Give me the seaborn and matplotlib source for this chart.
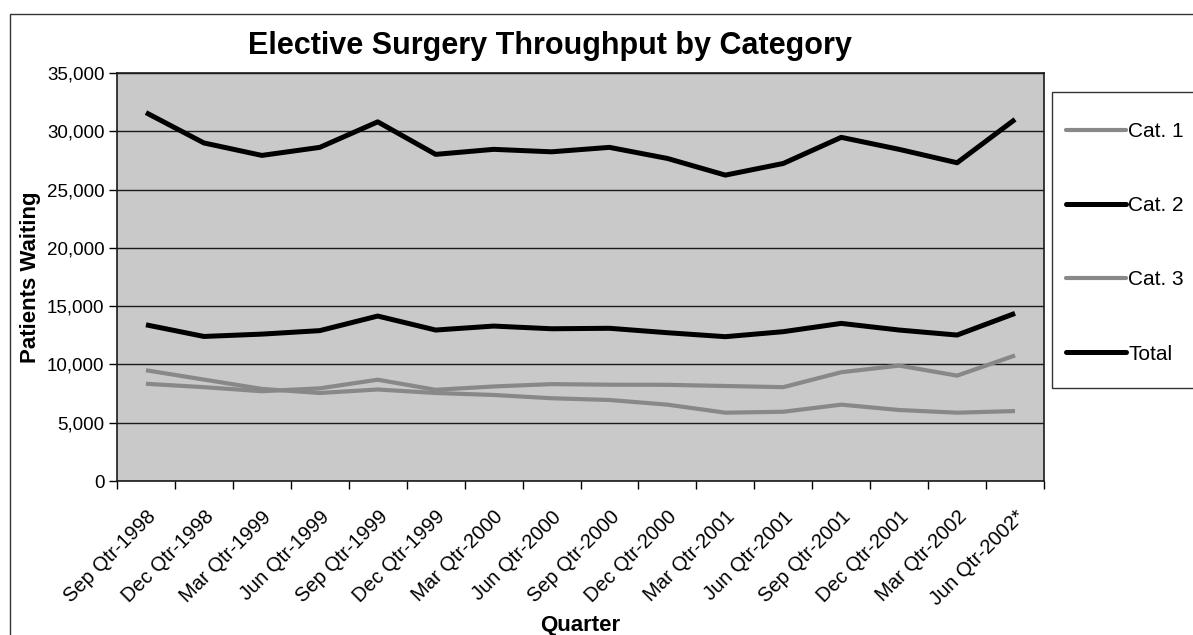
"""Elective surgery throughput by category - line chart recreation."""
import numpy as np
import pandas as pd
import matplotlib
matplotlib.use("Agg")
import matplotlib.pyplot as plt
import matplotlib.ticker as mticker
from matplotlib.patches import Rectangle
from matplotlib.lines import Line2D
import seaborn as sns

quarters = ["Sep Qtr-1998", "Dec Qtr-1998", "Mar Qtr-1999", "Jun Qtr-1999",
            "Sep Qtr-1999", "Dec Qtr-1999", "Mar Qtr-2000", "Jun Qtr-2000",
            "Sep Qtr-2000", "Dec Qtr-2000", "Mar Qtr-2001", "Jun Qtr-2001",
            "Sep Qtr-2001", "Dec Qtr-2001", "Mar Qtr-2002", "Jun Qtr-2002*"]
cat1 = [9500, 8700, 7900, 7550, 7850, 7550, 7380, 7100,
        6950, 6550, 5860, 5940, 6550, 6090, 5860, 6000]
cat2 = [13400, 12400, 12600, 12900, 14150, 12950, 13290, 13060,
        13100, 12720, 12380, 12810, 13520, 12950, 12520, 14380]
cat3 = [8340, 8050, 7700, 7950, 8690, 7820, 8110, 8310,
        8260, 8250, 8150, 8050, 9330, 9900, 9040, 10770]
total = [31600, 29000, 27930, 28620, 30810, 28020, 28450, 28240,
         28620, 27670, 26240, 27240, 29480, 28450, 27300, 31020]
series = ["Cat. 1", "Cat. 2", "Cat. 3", "Total"]

df = pd.DataFrame({"pos": np.arange(len(quarters)),
                   "Cat. 1": cat1, "Cat. 2": cat2, "Cat. 3": cat3, "Total": total})
long = df.melt(id_vars="pos", var_name="Series", value_name="Patients")

sns.set_theme(style="white")
plt.rcParams["font.family"] = ["Liberation Sans", "DejaVu Sans"]
plt.rcParams["text.color"] = "black"
plt.rcParams["axes.labelcolor"] = "black"
plt.rcParams["xtick.color"] = "black"
plt.rcParams["ytick.color"] = "black"

W, H = 1193, 635
fig = plt.figure(figsize=(W / 100, H / 100), dpi=100)
ax = fig.add_axes([117 / W, 1 - 481 / H, (1044 - 117) / W, (481 - 73) / H])
ax.set_facecolor("#c9c9c9")

palette = {"Cat. 1": "#888888", "Cat. 2": "black", "Cat. 3": "#888888", "Total": "black"}
widths = {"Cat. 1": 3.0, "Cat. 2": 3.6, "Cat. 3": 3.0, "Total": 3.6}
sns.lineplot(data=long, x="pos", y="Patients", hue="Series", hue_order=series,
             size="Series", sizes=widths, palette=palette, ax=ax, legend=False,
             zorder=3, solid_joinstyle="round", solid_capstyle="butt")

# axes & grid
ax.set_xlim(-0.5, len(quarters) - 0.5)
ax.set_ylim(0, 35000)
ax.yaxis.set_major_locator(mticker.MultipleLocator(5000))
ax.yaxis.set_major_formatter(mticker.StrMethodFormatter("{x:,.0f}"))
ax.grid(axis="y", color="#1a1a1a", lw=1.0, zorder=1)
ax.set_axisbelow(True)
ax.xaxis.set_major_locator(mticker.FixedLocator(np.arange(-0.5, len(quarters), 1)))
ax.xaxis.set_major_formatter(mticker.NullFormatter())
ax.xaxis.set_minor_locator(mticker.FixedLocator(np.arange(len(quarters))))
ax.xaxis.set_minor_formatter(mticker.FixedFormatter(quarters))
ax.tick_params(axis="x", which="major", length=6, width=1, color="black", direction="out", bottom=True)
ax.tick_params(axis="x", which="minor", length=0, pad=19, labelsize=14.5)
ax.tick_params(axis="y", length=6, width=1, color="black", direction="out", left=True,
               labelsize=13.5, pad=3)
for lbl in ax.get_xticklabels(minor=True):
    lbl.set_rotation(45)
    lbl.set_ha("right")
    lbl.set_rotation_mode("anchor")
for s in ax.spines.values():
    s.set_color("#1a1a1a")
    s.set_linewidth(1.2)

ax.set_xlabel("Quarter", fontsize=16, fontweight="bold", labelpad=4)
ax.set_ylabel("Patients Waiting", fontsize=16, fontweight="bold", labelpad=4)
fig.text(550 / W, 1 - 46 / H, "Elective Surgery Throughput by Category",
         ha="center", va="center", fontsize=22, fontweight="bold")

# chart border (top & left edges visible)
fig.patches.append(Rectangle((10 / W, -0.05), 1.1, 1 - 14 / H + 0.05, transform=fig.transFigure,
                             fill=False, edgecolor="#333333", lw=1.0))

# legend box + entries
fig.patches.append(Rectangle((1052 / W, 1 - 388 / H), 0.2, (388 - 92) / H,
                             transform=fig.transFigure, facecolor="white",
                             edgecolor="#333333", lw=1.0))
handles = [Line2D([], [], color=palette[s], lw=widths[s]) for s in series]
fig.legend(handles, series, loc="upper left", bbox_to_anchor=(1066 / W, 1 - 122 / H),
           frameon=False, fontsize=15, handlelength=2.9, handletextpad=0.1,
           labelspacing=2.65, borderpad=0, borderaxespad=0)

fig.savefig("out.png", dpi=100, facecolor="white")
